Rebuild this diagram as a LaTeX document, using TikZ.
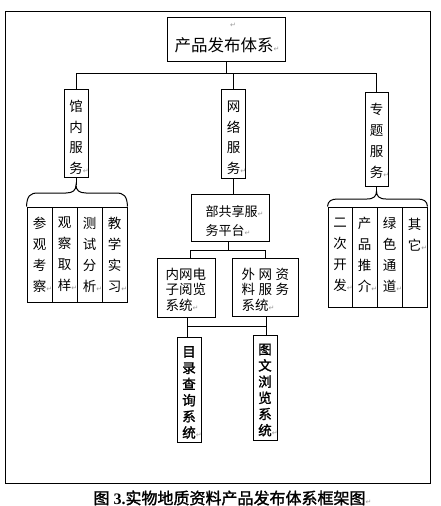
\documentclass[tikz,border=0pt]{standalone}
\usepackage{fontspec}
\newfontfamily\cjk{Noto Sans CJK SC}
\newfontfamily\cjkb{Noto Sans CJK SC}[FakeBold=1.6]
\newfontfamily\djv{DejaVu Sans}
\newfontfamily\tnr{Liberation Serif}
\newcommand\retmark{{\djv\color{black!40}\fontsize{7}{7}\selectfont ↵}}
\newcommand\retR{\rlap{\retmark}}
\begin{document}
\begin{tikzpicture}[x=1pt,y=-1pt,
  box/.style={draw,line width=1pt,inner sep=0pt},
  ln/.style={line width=1pt},
  vt/.style={font=\cjk\fontsize{13.5}{20.5}\selectfont,align=center,inner sep=0pt},
  vtw/.style={font=\cjk\fontsize{13.5}{21}\selectfont,align=center,inner sep=0pt},
  vtb/.style={font=\cjkb\fontsize{13.5}{16.2}\selectfont,align=center,inner sep=0pt},
  lt/.style={font=\cjk\fontsize{13.5}{15.5}\selectfont,align=left,anchor=west,inner sep=0pt}]
\useasboundingbox (0,0) rectangle (440,506);
% outer frame
\node[box,minimum width=424.3,minimum height=472] (frame) at (217.85,247) {};
% top
\node[box,minimum width=118,minimum height=44] (top) at (226,39) {};
\node[inner sep=0pt] (topmk) at (233,25) {\retmark};
\node[font=\cjk\fontsize{16.5}{20}\selectfont,inner sep=0pt] (toptext) at (224,45) {产品发布体系\retR};
% services
\node[box,minimum width=24,minimum height=88] (s1) at (76,133) {};
\node[vt] (s1t) at (76,137.5) {馆\\内\\服\\务\retR};
\node[box,minimum width=24,minimum height=89] (s2) at (233.7,133.5) {};
\node[vt] (s2t) at (233.7,138) {网\\络\\服\\务\retR};
\node[box,minimum width=23,minimum height=94] (s3) at (376.5,139) {};
\node[vtw] (s3t) at (376.5,141) {专\\题\\服\\务\retR};
% bus
\coordinate (busL) at (76,73);
\coordinate (busR) at (377,73);
\draw[ln] (busL) -- (busR);
\draw[ln] (top.south) -- (top.south |- busL);
\draw[ln] (s1.north) -- (s1.north |- busL);
\draw[ln] (s2.north) -- (s2.north |- busL);
\draw[ln] (s3.north) -- (s3.north |- busL);
% left cells
\node[box,vtw,minimum width=25,minimum height=95] (l1) at (39.5,254.5) {参\\观\\考\\察\retR};
\node[box,vtw,minimum width=25,minimum height=95] (l2) at (64.5,254.5) {观\\察\\取\\样\retR};
\node[box,vtw,minimum width=25,minimum height=95] (l3) at (89.5,254.5) {测\\试\\分\\析\retR};
\node[box,vtw,minimum width=25,minimum height=95] (l4) at (114.5,254.5) {教\\学\\实\\习\retR};
% left brace
\coordinate (b1) at (76,185);
\draw[ln] (s1.south) -- (b1);
\draw[ln] (l1.north west) .. controls (27,196) and (30,193) .. (38,193) -- (66,193)
  .. controls (73,193) and (76,190) .. (b1)
  .. controls (76,190) and (79,193) .. (86,193) -- (116,193)
  .. controls (124,193) and (127,196) .. (l4.north east);
% right cells
\node[box,minimum width=24,minimum height=100] (r1) at (340,257) {};
\node[box,minimum width=25,minimum height=100] (r2) at (364.5,257) {};
\node[box,minimum width=25,minimum height=100] (r3) at (389.5,257) {};
\node[box,minimum width=25,minimum height=100] (r4) at (414.5,257) {};
\node[vtw] (r1t) at (340,254.5) {二\\次\\开\\发\retR};
\node[vtw] (r2t) at (364.5,254.5) {产\\品\\推\\介\retR};
\node[vtw] (r3t) at (389.5,254.5) {绿\\色\\通\\道\retR};
\node[vtw] (r4t) at (414.5,234.5) {其\\它\retR};
% right brace
\coordinate (b3) at (376.5,191);
\draw[ln] (s3.south) -- (b3);
\draw[ln] (r1.north west) .. controls (328,201) and (331,199) .. (338,199) -- (367,199)
  .. controls (374,199) and (376.5,196) .. (b3)
  .. controls (376.5,196) and (379,199) .. (386,199) -- (417,199)
  .. controls (424,199) and (427,201) .. (r4.north east);
% platform
\node[box,minimum width=78,minimum height=47] (plat) at (230,217.5) {};
\node[font=\cjk\fontsize{13}{19}\selectfont,align=left,anchor=west,inner sep=0pt] (platt) at (205.5,221.5) {部共享服\retmark\\务平台\retmark};
\draw[ln] (s2.south) -- (s2.south |- plat.north);
% second level
\node[box,minimum width=58,minimum height=59] (n1) at (186,287.5) {};
\node[lt] (n1t) at (165.5,289.5) {内网电\\子阅览\\系统\retmark};
\node[box,minimum width=66,minimum height=58] (n2) at (265,287) {};
\node[lt] (n2t) at (241.5,289.5) {外\hspace{3.5pt}网\hspace{3.5pt}资\\料\hspace{3.5pt}服\hspace{3.5pt}务\\系统\retmark};
\coordinate (j1) at (228,250);
\coordinate (j1L) at (190,250);
\coordinate (j1R) at (265,250);
\draw[ln] (j1 |- plat.south) -- (j1);
\draw[ln] (j1L) -- (j1R);
\draw[ln] (j1L) -- (j1L |- n1.north);
\draw[ln] (j1R) -- (j1R |- n2.north);
% bottom boxes
\node[box,minimum width=24,minimum height=105] (m1) at (189,389.5) {};
\node[vtb] (m1t) at (189,392.5) {目\\录\\查\\询\\系\\统\retR};
\node[box,minimum width=24,minimum height=105] (m2) at (265,387.5) {};
\node[vtb] (m2t) at (265,390) {图\\文\\浏\\览\\系\\统\retR};
\coordinate (j2L) at (187,326);
\coordinate (j2R) at (266,326);
\draw[ln] (j2L |- n1.south) -- (j2L) -- (j2R) -- (j2R |- n2.south);
\draw[ln] (j2L) -- (j2L |- m1.north);
\draw[ln] (j2R) -- (j2R |- m2.north);
% caption
\node[font=\cjkb\fontsize{16}{16}\selectfont,inner sep=0pt] (cap) at (229.5,498) {图\hspace{4pt}{\tnr\bfseries 3.}实物地质资料产品发布体系框架图\retR};
\end{tikzpicture}
\end{document}
